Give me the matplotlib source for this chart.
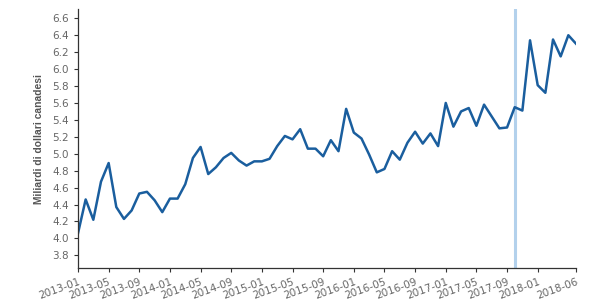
import matplotlib

matplotlib.use("Agg")
import matplotlib.pyplot as plt

# monthly values, 2013-01 .. 2018-06 (billions CAD)
months = [f"{y}-{m:02d}" for y in range(2013, 2019) for m in range(1, 13)][:66]
values = [
    4.06, 4.46, 4.22, 4.67, 4.89, 4.37, 4.23, 4.33, 4.53, 4.55, 4.45, 4.31,
    4.47, 4.47, 4.64, 4.95, 5.08, 4.76, 4.84, 4.95, 5.01, 4.92, 4.86, 4.91,
    4.91, 4.94, 5.09, 5.21, 5.17, 5.29, 5.06, 5.06, 4.97, 5.16, 5.03, 5.53,
    5.25, 5.18, 4.99, 4.78, 4.82, 5.03, 4.93, 5.13, 5.26, 5.12, 5.24, 5.09,
    5.60, 5.32, 5.50, 5.54, 5.33, 5.58, 5.44, 5.30, 5.31, 5.55, 5.51, 6.34,
    5.81, 5.72, 6.35, 6.15, 6.40, 6.30,
]
tick_labels = ["2013-01", "2013-05", "2013-09", "2014-01", "2014-05", "2014-09",
               "2015-01", "2015-05", "2015-09", "2016-01", "2016-05", "2016-09",
               "2017-01", "2017-05", "2017-09", "2018-01", "2018-06"]
marker_month = "2017-10"
y_ticks = [3.8, 4.0, 4.2, 4.4, 4.6, 4.8, 5.0, 5.2, 5.4, 5.6, 5.8, 6.0, 6.2, 6.4, 6.6]

x = list(range(len(months)))
fig = plt.figure(figsize=(6.05, 3.07), dpi=100)
ax = fig.add_axes([78 / 605, 39 / 307, 498 / 605, 259 / 307])

ax.axvline(months.index(marker_month), color="#b3d1ec", linewidth=2.2, zorder=1)
ax.plot(x, values, color="#1a5e9e", linewidth=1.8, zorder=2)

ax.set_xlim(0, len(months) - 1)
ax.set_ylim(3.65, 6.71)
ax.set_xticks([months.index(t) for t in tick_labels])
ax.set_xticklabels(tick_labels, rotation=20, ha="right", rotation_mode="anchor")
ax.set_yticks(y_ticks)
ax.set_yticklabels([f"{v:.1f}" for v in y_ticks])
ax.tick_params(colors="#333333", labelcolor="#666666", labelsize=7.5, length=3, width=0.8)
for s in ("top", "right"):
    ax.spines[s].set_visible(False)
for s in ("left", "bottom"):
    ax.spines[s].set_color("#333333")
    ax.spines[s].set_linewidth(0.9)

# narrower face than DejaVu so the label keeps its length at a readable size
ax.set_ylabel("Miliardi di dollari canadesi", fontsize=7.4, fontweight="bold",
              family="Liberation Sans", color="#555555")
ax.yaxis.set_label_coords(-34 / 498, 0.5)

fig.savefig("out.png", dpi=100)
